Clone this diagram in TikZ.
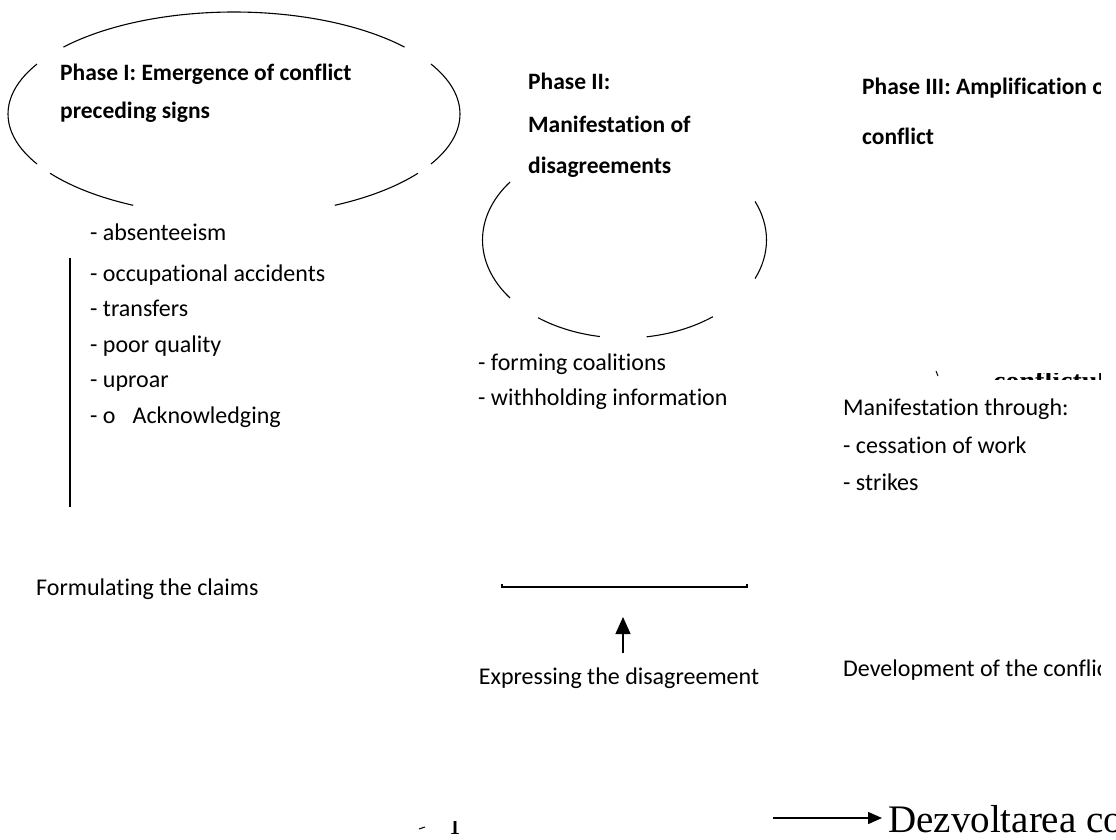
\documentclass[tikz,border=0pt]{standalone}
\usepackage{fontspec}
\setmainfont{Carlito}[Ligatures=NoCommon]
\newfontfamily\timesfont{Liberation Serif}
\usetikzlibrary{arrows.meta}

\begin{document}
\begin{tikzpicture}[x=1pt,y=-1pt,
  txt/.style={font=\fontsize{24}{28}\selectfont, anchor=mid west, inner sep=0pt},
  head/.style={txt, font=\fontsize{23.5}{27}\selectfont\bfseries},
  rim/.style={line width=1.1pt},
  arr/.style={line width=1.4pt, -{Triangle[length=14pt,width=12pt]}}]

\useasboundingbox (0,0) rectangle (1116,839);
\clip (0,0) rectangle (1116,839);

%%% 楕円
\coordinate (e1) at (234,114);
\coordinate (e2) at (624.5,240);
\foreach \a/\b in {41/139,150.7/209.3,215.5/243.5,296.5/324.5,330.7/389.3}
  \draw[rim] (e1) ++(\a:226pt and 102pt) arc[start angle=\a, end angle=\b, x radius=226pt, y radius=102pt];
\foreach \a/\b in {143.7/216.3,232.5/260,279/308.5,-23.2/23.2}
  \draw[rim] (e2) ++(\a:142pt and 98pt) arc[start angle=\a, end angle=\b, x radius=142pt, y radius=98pt];

%% 見出し
\node[head] (ph1a) at (60,78) {Phase I: Emergence of conflict};
\node[head] (ph1b) at (60,116) {preceding signs};
\node[head] (ph2a) at (528,87) {Phase II:};
\node[head] (ph2b) at (528,130) {Manifestation of};
\node[head] (ph2c) at (528,171) {disagreements};

%% 項目
% phase I
\node[txt] (absent) at (90,238) {- absenteeism};
\node[txt] (accid) at (90,279) {- occupational accidents};
\node[txt] (transf) at (90,314) {- transfers};
\node[txt] (poor) at (90,350) {- poor quality};
\node[txt] (uproar) at (90,385) {- uproar};
\node[txt] (ackn) at (90,421) {- o\hspace{17pt}Acknowledging};
% phase II
\node[txt] (coal) at (478,368) {- forming coalitions};
\node[txt] (withh) at (478,403) {- withholding information};

%% 線
\draw[line width=1.3pt] (70,258) -- (70,507);
\draw[line width=1.2pt] (502,584) -- (502,587) -- (747,587) -- (747,584);

%% 下の説明
\node[txt] (claims) at (36,593) {Formulating the claims};
\node[txt, anchor=mid] (express) at (619,682) {Expressing the disagreement};

\coordinate (expbase) at (623,653);
\coordinate (exptip) at (623,617);
\draw[arr, -{Triangle[length=17pt,width=15pt]}] (expbase) -- (exptip);

%% 右の列 (枠で切れる)
\begin{scope}
  \clip (800,0) rectangle (1100,839);
  \node[head] (ph3a) at (862,92) {Phase III: Amplification of the};
  \node[head] (ph3b) at (862,142) {conflict};
  \node[txt] (manif) at (843,413) {Manifestation through:};
  \node[txt] (cess) at (843,451) {- cessation of work};
  \node[txt] (strike) at (843,488) {- strikes};
  \node[txt] (devel) at (843,674) {Development of the conflict};
  \begin{scope}
    \clip (900,373) rectangle (1116,379);
    \node[inner sep=0pt, anchor=base west, font=\timesfont\bfseries\fontsize{28}{30}\selectfont] (cfl) at (993,390) {conflictului};
  \end{scope}
\end{scope}
\draw[line width=1pt] (936,371) -- (938,376);

%% 下端
\draw[line width=1pt] (419,829) -- (425,827);
\begin{scope}
  \clip (440,821) rectangle (470,839);
  \node[inner sep=0pt, anchor=base, font=\timesfont\fontsize{30}{32}\selectfont] (ibar) at (455,834) {I};
\end{scope}

\coordinate (dzs) at (773,818);
\coordinate (dzt) at (882,818);
\draw[arr] (dzs) -- (dzt);
\node[inner sep=0pt, anchor=base west, font=\timesfont\fontsize{39}{41}\selectfont] (dezv) at (888,832) {Dezvoltarea conflictului};

\end{tikzpicture}
\end{document}
